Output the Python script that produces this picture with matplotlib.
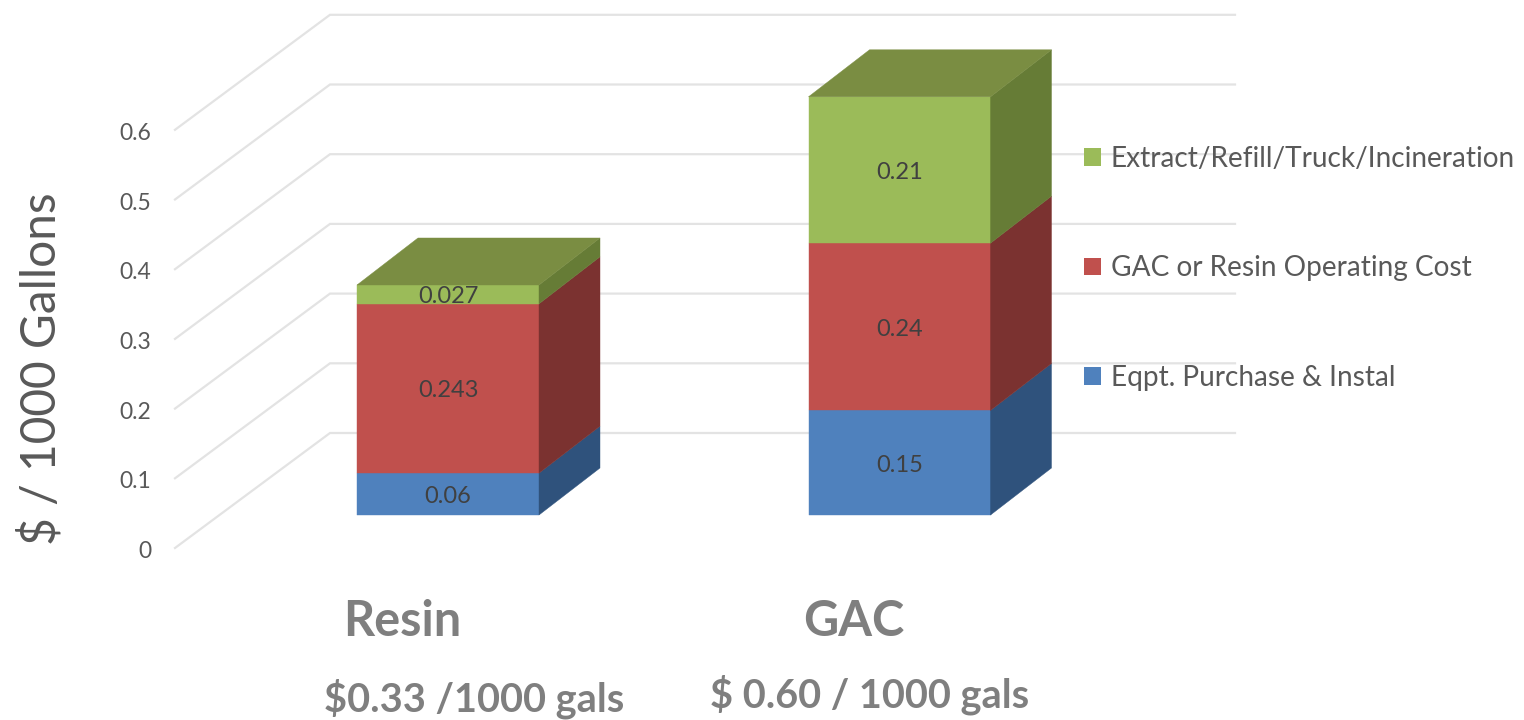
import matplotlib
matplotlib.use("Agg")
import matplotlib.pyplot as plt
from matplotlib.patches import Polygon, Patch

categories = ["Resin", "GAC"]
sublabels = ["$0.33 /1000 gals", "$ 0.60 / 1000 gals"]
series = ["Eqpt. Purchase & Instal", "GAC or Resin Operating Cost", "Extract/Refill/Truck/Incineration"]
equipment = [0.06, 0.15]
operating = [0.243, 0.24]
extract = [0.027, 0.21]
yticks = [0, 0.1, 0.2, 0.3, 0.4, 0.5, 0.6]

front = ["#4F81BD", "#C0504D", "#9BBB59"]
side = ["#2F527C", "#7B3230", "#667C36"]
top = "#7A8D42"
GRID = "#E3E3E3"
TXT = "#595959"
FONT = "Lato"

W, H = 1524, 720
PX = 451.5   # px per category
PY = 697.0   # px per unit value
X0, Y0 = 448.0, 515.0  # pixel of (first category, value 0)
fig = plt.figure(figsize=(W / 100, H / 100), dpi=100)
ax = fig.add_axes([0, 0, 1, 1])
ax.set_xlim(-X0 / PX, (W - X0) / PX)
ax.set_ylim(-(H - Y0) / PY, Y0 / PY)
ax.axis("off")

dxu = lambda p: p / PX
dyu = lambda p: p / PY

# wall/floor geometry relative to value axis
wall_x = dxu(330 - X0)
side_x = dxu(175 - X0)
end_x = dxu(1235 - X0)
back_up = dyu(515 - 433)
front_down = dyu(548 - 515)
for v in yticks:
    ax.plot([side_x, wall_x, end_x], [v - front_down, v + back_up, v + back_up],
            color=GRID, lw=1.6, zorder=1, solid_joinstyle="miter")
    ax.text(dxu(151 - X0), v - front_down - dyu(3.5), f"{v:g}", color=TXT, fontsize=16.5, family=FONT,
            ha="right", va="center", zorder=5)

half = dxu(91)
ddx, ddy = dxu(61), dyu(47)
positions = range(len(categories))
for i in positions:
    b = 0.0
    for k, vals in enumerate([equipment, operating, extract]):
        v = vals[i]
        l, r = i - half, i + half
        ax.add_patch(Polygon([(l, b), (r, b), (r, b + v), (l, b + v)], fc=front[k], ec=front[k], lw=0.3, zorder=3))
        ax.add_patch(Polygon([(r, b), (r + ddx, b + ddy), (r + ddx, b + v + ddy), (r, b + v)],
                             fc=side[k], ec=side[k], lw=0.3, zorder=3))
        ax.text(i, b + v / 2 - dyu(2.5), f"{v:g}", color="#404040", fontsize=17, family=FONT,
                ha="center", va="center", zorder=6)
        b += v
    ax.add_patch(Polygon([(l, b), (r, b), (r + ddx, b + ddy), (l + ddx, b + ddy)], fc=top, ec=top, lw=0.3, zorder=3))

# category labels
lab_x = [dxu(402 - X0), dxu(854 - X0)]
for x, c in zip(lab_x, categories):
    ax.text(x, dyu(515 - 621), c, color="#7F7F7F", fontsize=35, family=FONT, weight="bold",
            ha="center", va="center")
sub_pos = [(474, 699), (870, 695)]
for (px, py), s in zip(sub_pos, sublabels):
    ax.text(dxu(px - X0), dyu(515 - py), s.replace("$", r"\$"), color="#7F7F7F", fontsize=28.6, family=FONT,
            weight="bold", ha="center", va="center")

ax.text(dxu(41 - X0), dyu(515 - 369), "$ / 1000 Gallons".replace("$", r"\$"), rotation=90, color=TXT,
        fontsize=34.5, family=FONT, ha="center", va="center")

handles = [Patch(fc=front[k], ec="none") for k in (2, 1, 0)]
ax.legend(handles, [series[k] for k in (2, 1, 0)], loc="upper left",
          bbox_to_anchor=(1084 / W, 1 - 146 / H), frameon=False,
          prop={"family": FONT, "size": 20.2}, labelcolor=TXT, handlelength=0.6, handleheight=0.6,
          handletextpad=0.35, labelspacing=2.97, borderpad=0, borderaxespad=0)

fig.savefig("out.png", dpi=100, facecolor="white")
